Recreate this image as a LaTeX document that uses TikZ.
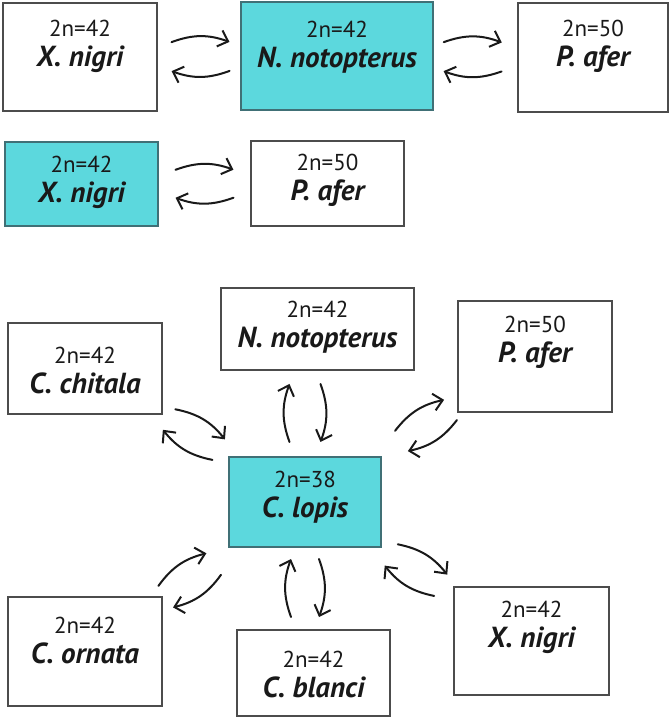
\documentclass[tikz,border=0pt]{standalone}
\usepackage{fontspec}
\setmainfont{PT Sans}
\usetikzlibrary{calc,arrows.meta}
\definecolor{tealbox}{RGB}{92,216,221}
\definecolor{tealedge}{RGB}{64,112,118}
\definecolor{ink}{RGB}{25,25,25}

\begin{document}
\begin{tikzpicture}[x=1pt,y=-1pt,
  sp/.style={line width=1.1pt, inner sep=0pt},
  cyto/.style={align=center, inner sep=0pt, text=ink, font=\fontsize{23}{30}\selectfont},
  flowarrow/.style={line width=2pt, line cap=round, ink,
    -{Straight Barb[length=9pt,width=17pt]}, bend left=20}]
\useasboundingbox (0,0) rectangle (672,718);

% species boxes: name/centre x/centre y/width/height/text y/2n/species/fill/edge
\foreach \id/\x/\y/\w/\h/\ty/\k/\sp/\col/\edge in {
  xn1/80/57/154/108/48/42/X. nigri/white/black!70,
  np1/337/56/192/108/49/42/N. notopterus/tealbox/tealedge,
  pa1/593/57.5/150/109/47.5/50/P. afer/white/black!70,
  xn2/81.5/184/153/84/184/42/X. nigri/tealbox/tealedge,
  pa2/327.5/183.5/153/85/181.5/50/P. afer/white/black!70,
  np3/317.5/329/193/82/329/42/N. notopterus/white/black!70,
  cc/85/368.5/154/91/375/42/C. chitala/white/black!70,
  pa3/535/356.5/154/111/344/50/P. afer/white/black!70,
  cl/305/502/152/90/499/38/C. lopis/tealbox/tealedge,
  co/85/651.5/154/109/645/42/C. ornata/white/black!70,
  cb/313.5/673/153/86/679/42/C. blanci/white/black!70,
  xn3/531.5/641/155/108/629/42/X. nigri/white/black!70}{
  \node[sp, fill=\col, draw=\edge, minimum width=\w, minimum height=\h] (\id) at (\x,\y) {};
  \node[cyto] (\id-t) at (\x,\ty) {2n=\k\\{\fontsize{29}{30}\selectfont\bfseries\itshape \sp\strut}};
}

% two-way arrows: from/to/position/offset
\foreach \a/\b/\m/\d in {
  xn1/np1/0.469/14.5, np1/pa1/0.53/14.5, xn2/pa2/0.5/14,
  cl.north/np3.south -| cl.north/0.506/15.5,
  cl/cc/0.505/12, cl/pa3/0.526/12, cl/co/0.524/13,
  cl.south/cb.north -| cl.south/0.494/14, cl/xn3/0.49/12.5}{
  \draw[flowarrow] ($(\a)!\m!(\b)!-29pt!(\b)!\d pt!90:(\b)$) to ($(\a)!\m!(\b)!29pt!(\b)!\d pt!90:(\b)$);
  \draw[flowarrow] ($(\a)!\m!(\b)!29pt!(\b)!\d pt!-90:(\b)$) to ($(\a)!\m!(\b)!-29pt!(\b)!\d pt!-90:(\b)$);
}
\end{tikzpicture}
\end{document}
